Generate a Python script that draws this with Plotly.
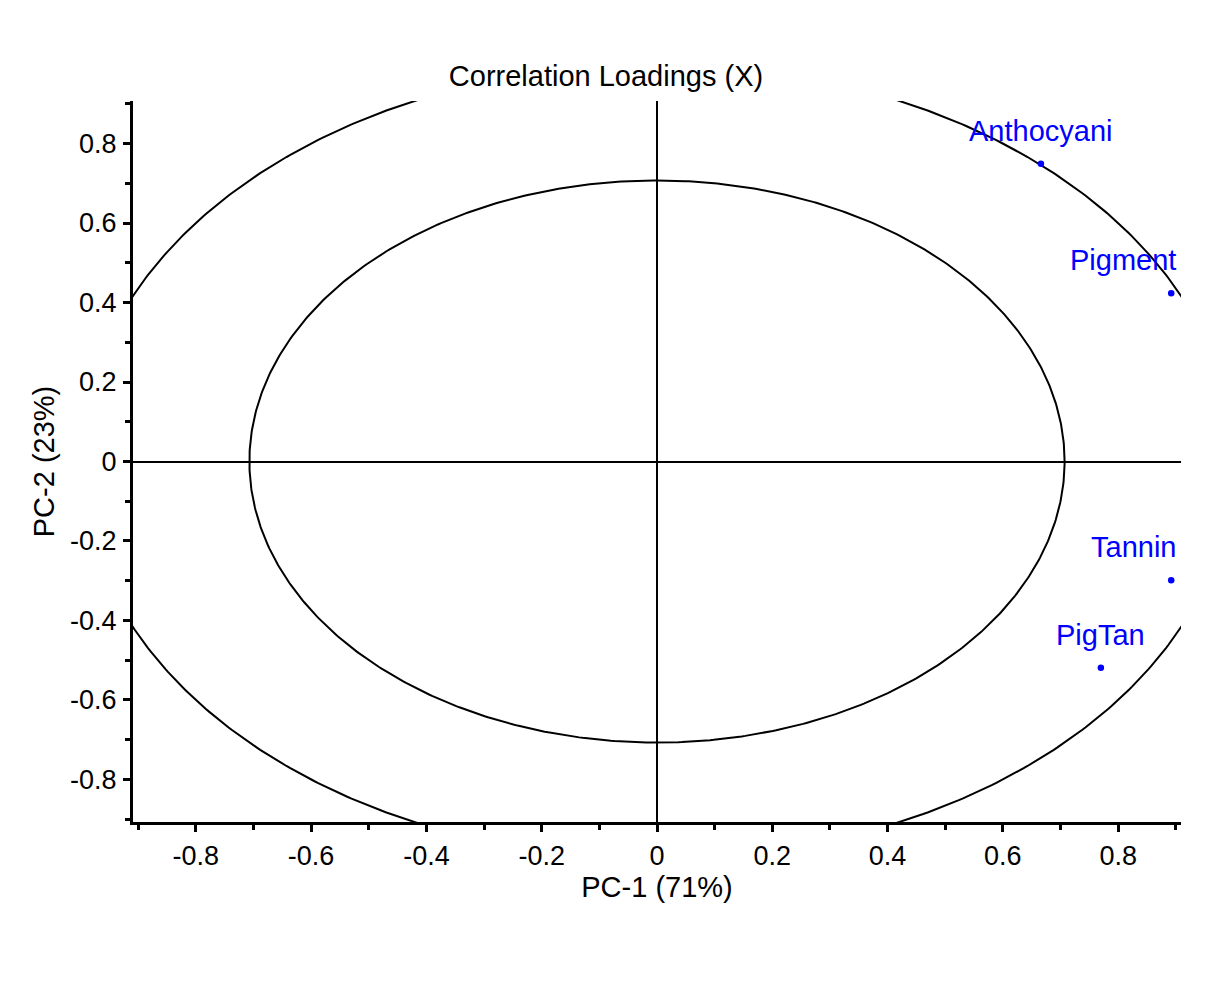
import numpy as np
import plotly.graph_objects as go

# ---- data ----
variables = ["Anthocyani", "Pigment", "Tannin", "PigTan"]
pc1 = [0.666, 0.892, 0.892, 0.770]
pc2 = [0.749, 0.423, -0.299, -0.519]
label_anchor = ["center", "right", "right", "center"]
circle_radii = [1.0, 0.7071]
tick_vals = [-0.8, -0.6, -0.4, -0.2, 0, 0.2, 0.4, 0.6, 0.8]
tick_text = ["-0.8", "-0.6", "-0.4", "-0.2", "0", "0.2", "0.4", "0.6", "0.8"]

FONT = "Liberation Sans, Arial, sans-serif"

fig = go.Figure()

theta = np.linspace(0, 2 * np.pi, 721)
for r in circle_radii:
    fig.add_trace(go.Scatter(
        x=r * np.cos(theta), y=r * np.sin(theta), mode="lines",
        line=dict(color="black", width=2), hoverinfo="skip", showlegend=False))

fig.add_trace(go.Scatter(
    x=pc1, y=pc2, mode="markers",
    marker=dict(color="#0000ff", size=6.5), showlegend=False, text=variables))

for name, x, y, anc in zip(variables, pc1, pc2, label_anchor):
    fig.add_annotation(
        x=x, y=y, text=name, showarrow=False, xanchor=anc, yanchor="middle",
        xshift=(7 if anc == "right" else 0), yshift=33,
        font=dict(family=FONT, size=29, color="#0000ff"))

axis_common = dict(
    showgrid=False, zeroline=True, zerolinecolor="black", zerolinewidth=1.8,
    showline=True, linecolor="black", linewidth=3, mirror=False,
    ticks="outside", ticklen=7, tickwidth=2.5, tickcolor="black",
    tickvals=tick_vals, ticktext=tick_text,
    tickfont=dict(family=FONT, size=27, color="black"),
    minor=dict(dtick=0.1, tick0=0, ticks="outside", ticklen=5, tickwidth=2.5, tickcolor="black"),
    ticklabelstandoff=1,
)

fig.update_xaxes(range=[-0.909, 0.909], **axis_common,
                 title=dict(text="PC-1 (71%)", font=dict(family=FONT, size=29, color="black"), standoff=6))
fig.update_yaxes(range=[-0.907, 0.907], **axis_common,
                 title=dict(text="PC-2 (23%)", font=dict(family=FONT, size=29, color="black"), standoff=7))

fig.update_layout(
    width=1208, height=981,
    margin=dict(l=125, r=35, t=93, b=167),
    plot_bgcolor="white", paper_bgcolor="white",
    title=dict(text="Correlation Loadings (X)", x=598 / 1208, xref="container", xanchor="center",
               y=1 - 68 / 981, yref="container", yanchor="middle",
               font=dict(family=FONT, size=29, color="black")),
)

fig.write_html("out.html")
